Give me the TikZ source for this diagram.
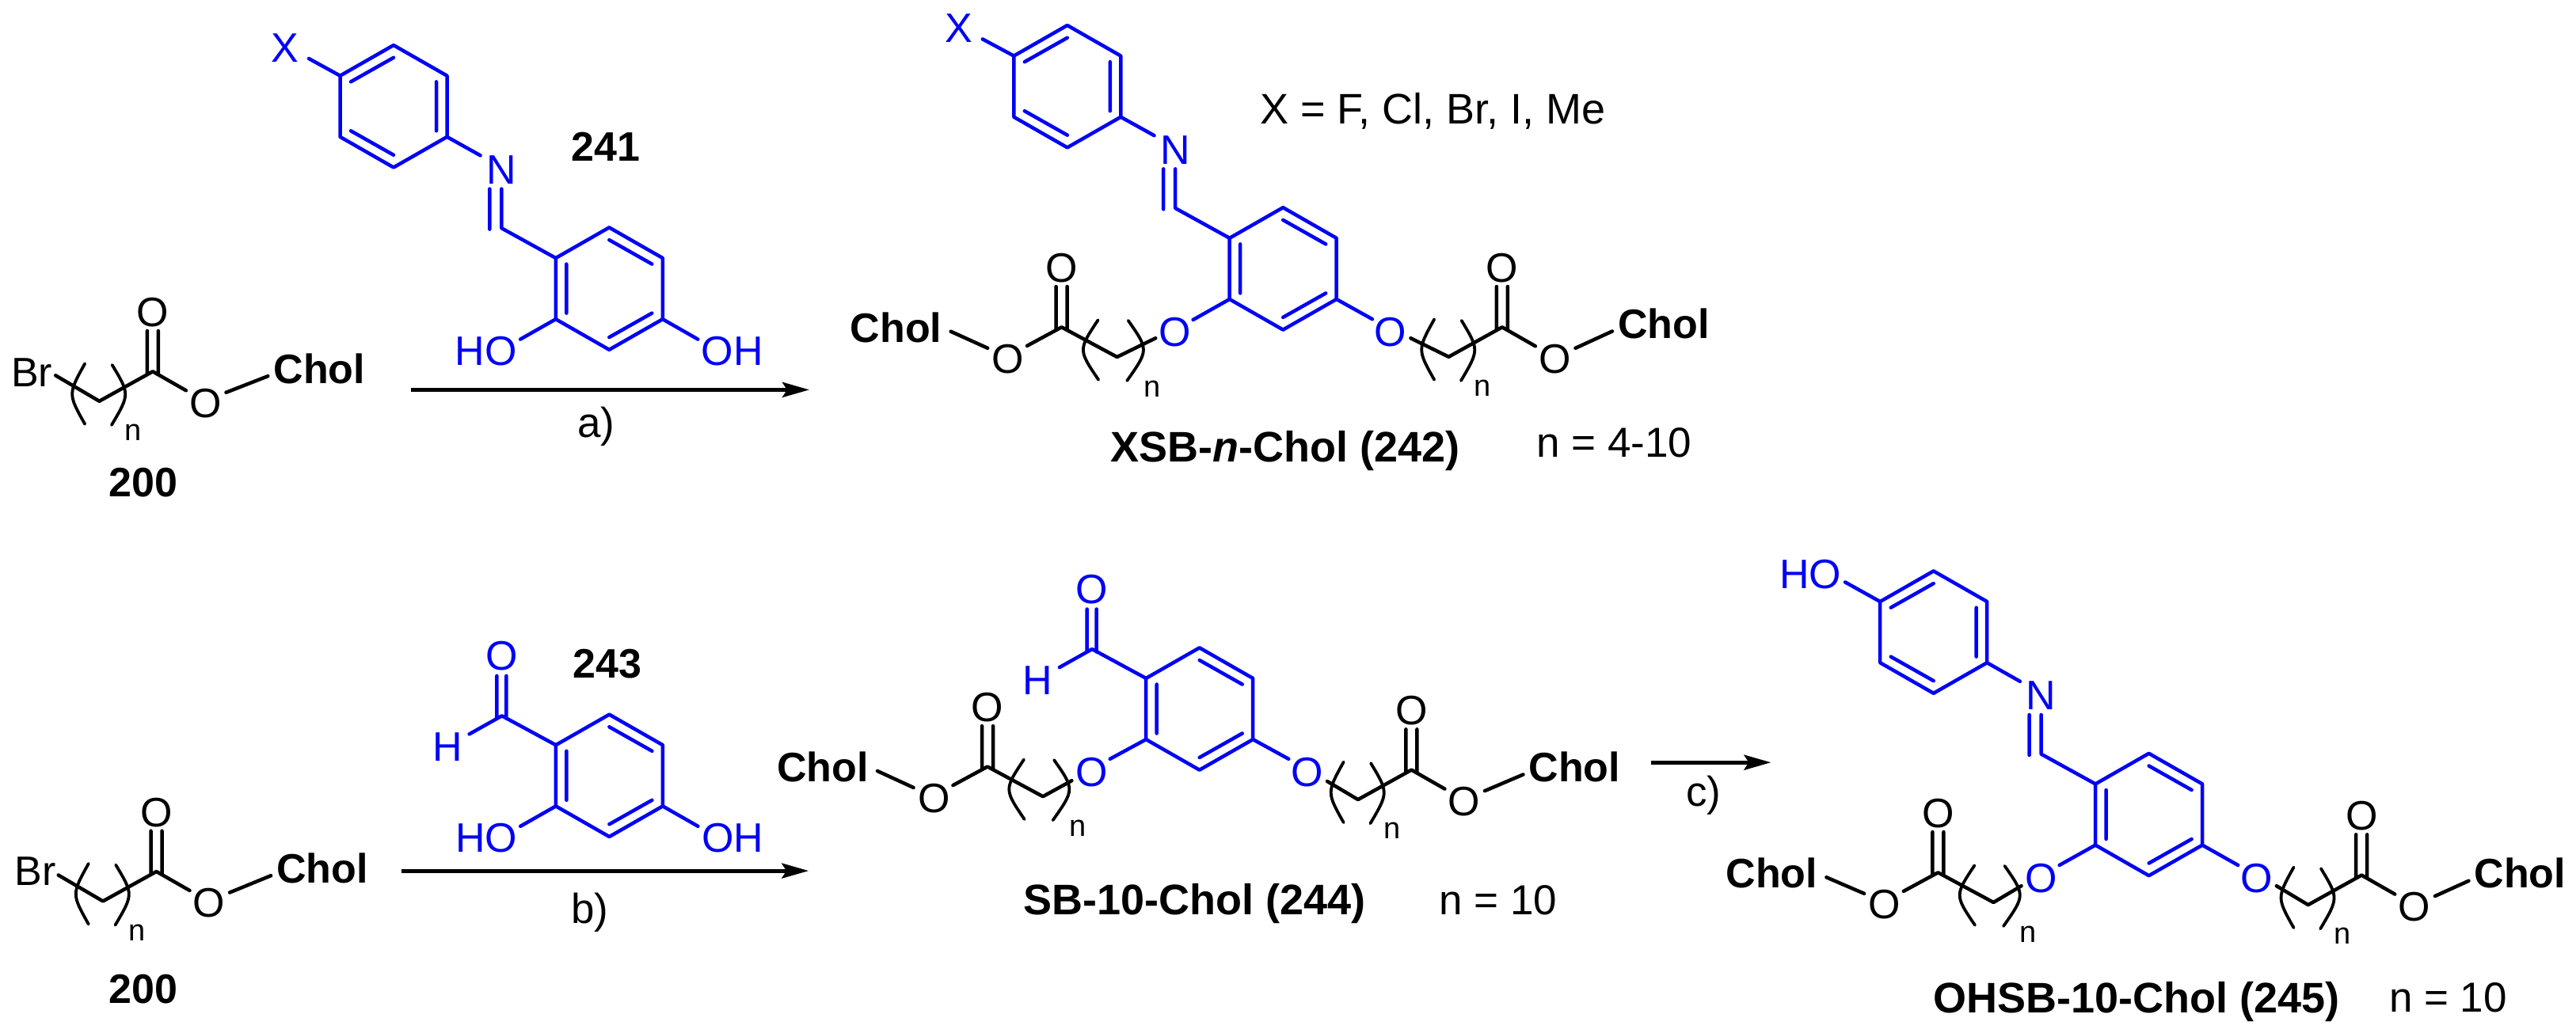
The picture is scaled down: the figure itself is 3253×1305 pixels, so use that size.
\documentclass[tikz,border=0pt]{standalone}
\usepackage{fontspec}
\setmainfont{Liberation Sans}
\usetikzlibrary{arrows.meta}
\definecolor{chemblue}{RGB}{0,0,245}
\tikzset{
  x=.5pt,y=-.5pt,
  bond/.style={line width=2.25pt,line cap=round,line join=round},
  bk/.style={bond,draw=black},
  bl/.style={bond,draw=chemblue},
  paren/.style={line width=1.9pt,draw=black,line cap=round},
  atom/.style={inner sep=0pt,font=\fontsize{26pt}{30pt}\selectfont,text height=18.6pt,text depth=0pt},
  chol/.style={inner sep=0pt,font=\fontsize{26pt}{30pt}\selectfont\bfseries,text height=18.6pt,text depth=0pt},
  subn/.style={inner sep=0pt,font=\fontsize{19pt}{22pt}\selectfont,text height=10pt,text depth=0pt},
  capline/.style={inner sep=0pt,anchor=base west,font=\fontsize{27pt}{30pt}\selectfont\bfseries},
  note/.style={inner sep=0pt,anchor=base west,font=\fontsize{26.5pt}{30pt}\selectfont},
  rxn/.style={line width=2.4pt,draw=black,-{Stealth[length=17pt,width=9.5pt,inset=3pt]}},
}
% six vertices and the inner double-bond ends of a ring
\newcommand\hexpts[3]{\begin{scope}[shift={(#2,#3)}]
  \coordinate (#1t) at (0,-77.2); \coordinate (#1ur) at (67.5,-38.6);
  \coordinate (#1lr) at (67.5,38.6); \coordinate (#1b) at (0,77.2);
  \coordinate (#1ll) at (-67.5,38.6); \coordinate (#1ul) at (-67.5,-38.6);
  \coordinate (#1it) at (0,-61.5); \coordinate (#1iur) at (54,-31);
  \coordinate (#1ilr) at (54,31); \coordinate (#1ib) at (0,61.5);
  \coordinate (#1ill) at (-54,31); \coordinate (#1iul) at (-54,-31);
  \end{scope}
  \draw[bl] (#1t)--(#1ur)--(#1lr)--(#1b)--(#1ll)--(#1ul)--cycle;}
\newcommand\ringA[3]{\hexpts{#1}{#2}{#3}
  \draw[bl] (#1iul)--(#1it) (#1iur)--(#1ilr) (#1ill)--(#1ib);}
\newcommand\ringB[3]{\hexpts{#1}{#2}{#3}
  \draw[bl] (#1it)--(#1iur) (#1ilr)--(#1ib) (#1iul)--(#1ill);}
% imine bridge: #1 name, #2 #3 centre of ring B (named #1b), #4 #5 centre of ring A (named #1A)
\newcommand\imine[5]{\begin{scope}[shift={(#2,#3)}]
  \coordinate (#1cn) at (-136,-76.4); \coordinate (#1cn2) at (-151,-75);
  \coordinate (#1nb) at (-136,-126); \coordinate (#1nb2) at (-151,-126);
  \coordinate (#1ne) at (-162.7,-168.2);
  \node[atom,text=chemblue] (#1N) at (-136,-150.9) {N};
  \end{scope}
  \ringA{#1A}{#4}{#5}
  \draw[bl] (#1bul)--(#1cn)--(#1nb) (#1cn2)--(#1nb2) (#1Alr)--(#1ne);}
% aldehyde on ring B
\newcommand\cho[3]{\begin{scope}[shift={(#2,#3)}]
  \coordinate (#1cc) at (-135.6,-75.5); \coordinate (#1d1) at (-142,-72);
  \coordinate (#1d2) at (-130,-72); \coordinate (#1u1) at (-142,-126);
  \coordinate (#1u2) at (-130,-126); \coordinate (#1he) at (-176.8,-52.4);
  \node[atom,text=chemblue] (#1O) at (-136,-152) {O};
  \node[atom,text=chemblue] (#1H) at (-204.5,-36.5) {H};
  \end{scope}
  \draw[bl] (#1bul)--(#1cc)--(#1he) (#1d1)--(#1u1) (#1d2)--(#1u2);}
% ester arm pointing right: #1 name, #2 #3 carbonyl C, #4 #5 Chol offset, #6 #7 free chain end
\newcommand\armR[7]{\begin{scope}[shift={(#2,#3)}]
  \coordinate (#1C) at (0,0); \coordinate (#1M) at (-67.5,37.5);
  \coordinate (#1d1) at (-7,3); \coordinate (#1d2) at (7,3);
  \coordinate (#1u1) at (-7,-51.3); \coordinate (#1u2) at (7,-51.3);
  \coordinate (#1e1) at (42,24); \coordinate (#1e2) at (92.6,26.5);
  \coordinate (#1e3) at ({#4-65},{#5+9.5});
  \node[atom] (#1O) at (0,-75.6) {O};
  \node[atom] (#1Oe) at (66.5,39.3) {O};
  \node[chol] (#1Ch) at (#4,#5) {Chol};
  \node[subn] (#1n) at (-24.4,77) {n};
  \draw[paren] (-85.7,-10) .. controls (-107,28.5) .. (-85.7,66.5);
  \draw[paren] (-51.3,-8.4) .. controls (-29,28.7) .. (-52,67.7);
  \end{scope}
  \coordinate (#1end) at (#6,#7);
  \draw[bk] (#1end)--(#1M)--(#1C)--(#1e1) (#1d1)--(#1u1) (#1d2)--(#1u2) (#1e2)--(#1e3);}
% ester arm pointing left
\newcommand\armL[7]{\begin{scope}[shift={(#2,#3)}]
  \coordinate (#1C) at (0,0); \coordinate (#1M) at (70,37.7);
  \coordinate (#1d1) at (-7,3); \coordinate (#1d2) at (7,3);
  \coordinate (#1u1) at (-7,-51.3); \coordinate (#1u2) at (7,-51.3);
  \coordinate (#1e1) at (-43.6,23.6); \coordinate (#1e2) at (-93.4,26.5);
  \coordinate (#1e3) at ({#4+69},{#5+5});
  \node[atom] (#1O) at (0,-75.4) {O};
  \node[atom] (#1Oe) at (-67.4,39.5) {O};
  \node[chol] (#1Ch) at (#4,#5) {Chol};
  \node[subn] (#1n) at (114,78) {n};
  \draw[paren] (46,-9) .. controls (21,28.7) .. (46.6,66.5);
  \draw[paren] (84.1,-8.4) .. controls (110,28.7) .. (82.6,67.7);
  \end{scope}
  \coordinate (#1end) at (#6,#7);
  \draw[bk] (#1end)--(#1M)--(#1C)--(#1e1) (#1d1)--(#1u1) (#1d2)--(#1u2) (#1e2)--(#1e3);}
\begin{document}
\begin{tikzpicture}
\path[use as bounding box,fill=white] (0,0) rectangle (3253,1305);

% ---- 200 (top)
\node[atom] (brA) at (40,470) {Br};
\armR{pa}{192.9}{469.3}{210.4}{-3.6}{70.2}{474.3}
\node[chol] (lab200a) at (181,609) {200};

% ---- 241
\ringB{mb}{769.3}{364.6}
\imine{m}{769.3}{364.6}{497}{134.3}
\node[atom,text=chemblue] (mX) at (360,60) {X};
\coordinate (mXe) at (390,74);
\draw[bl] (mAul)--(mXe);
\node[atom,text=chemblue] (mHO) at (613.8,443.2) {HO};
\node[atom,text=chemblue] (mOH) at (924.6,443.2) {OH};
\coordinate (mEL) at (657.1,428.6); \coordinate (mER) at (881.3,428.6);
\draw[bl] (mbll)--(mEL) (mblr)--(mER);
\node[chol] (lab241) at (764.6,185.2) {241};

% ---- arrow a
\coordinate (aS) at (519,492.4); \coordinate (aE) at (1022,492.4);
\draw[rxn] (aS)--(aE);
\node[note,anchor=base] (la) at (752.7,552) {a)};

% ---- 242
\ringB{xb}{1620.2}{339.4}
\imine{x}{1620.2}{339.4}{1347.8}{109.2}
\node[atom,text=chemblue] (xX) at (1211.2,35) {X};
\coordinate (xXe) at (1240.8,49.4);
\draw[bl] (xAul)--(xXe);
\node[atom,text=chemblue] (xOL) at (1483.7,418.8) {O};
\node[atom,text=chemblue] (xOR) at (1756.1,418.8) {O};
\coordinate (xEL) at (1506.6,404); \coordinate (xER) at (1733,403.2);
\draw[bl] (xbll)--(xEL) (xblr)--(xER);
\armL{xl}{1340.6}{413.3}{-209}{0.4}{1459.2}{427.2}
\armR{xr}{1896.9}{413.3}{204}{-4.3}{1781.4}{427.2}
\node[note,font=\fontsize{27pt}{30pt}\selectfont] (xeq) at (1590.8,156.6) {X = F, Cl, Br, I, Me};
\node[capline] (xcap) at (1401.8,583) {XSB-\textit{n}-Chol (242)};
\node[note] (xn) at (1939.8,577.5) {n = 4-10};

% ---- 200 (bottom)
\node[atom] (brB) at (44.5,1100) {Br};
\armR{pb}{197.5}{1101}{209.6}{-4.3}{73.7}{1105.5}
\node[chol] (lab200b) at (180.8,1249) {200};

% ---- 243
\ringB{db}{769.4}{979.8}
\cho{d}{769.4}{979.8}
\coordinate (dEL) at (657.2,1043.8); \coordinate (dER) at (881.4,1043.8);
\node[atom,text=chemblue] (dHO) at (614,1058.2) {HO};
\node[atom,text=chemblue] (dOH) at (925.4,1058.2) {OH};
\draw[bl] (dbll)--(dEL) (dblr)--(dER);
\node[chol] (lab243) at (766.8,837.7) {243};

% ---- arrow b
\coordinate (bS) at (507,1100.1); \coordinate (bE) at (1021.2,1100.1);
\draw[rxn] (bS)--(bE);
\node[note,anchor=base] (lb) at (744.7,1166) {b)};

% ---- 244
\ringB{sb}{1514.7}{895.5}
\cho{s}{1514.7}{895.5}
\node[atom,text=chemblue] (sOL) at (1379,974.7) {O};
\node[atom,text=chemblue] (sOR) at (1650.4,974.7) {O};
\coordinate (sEL) at (1401.7,958.8); \coordinate (sER) at (1627.3,958.8);
\draw[bl] (sbll)--(sEL) (sblr)--(sER);
\armL{sl}{1247}{968.5}{-208}{0.5}{1353.4}{986.2}
\armR{sr}{1782.4}{972.6}{206}{-3.6}{1676}{987}
\node[capline] (scap) at (1292.5,1155.7) {SB-10-Chol (244)};
\node[note] (sn) at (1816.9,1155) {n = 10};

% ---- arrow c
\coordinate (cS) at (2084.5,963.2); \coordinate (cE) at (2236.4,963.2);
\draw[rxn] (cS)--(cE);
\node[note,anchor=base] (lc) at (2151.3,1018) {c)};

% ---- 245
\ringB{hb}{2713.6}{1029}
\imine{h}{2713.6}{1029}{2441.7}{798.6}
\node[atom,text=chemblue] (hHO) at (2286.3,724.4) {HO};
\coordinate (hXe) at (2330,735.4);
\draw[bl] (hAul)--(hXe);
\node[atom,text=chemblue] (hOL) at (2577.9,1108.6) {O};
\node[atom,text=chemblue] (hOR) at (2849.4,1108.6) {O};
\coordinate (hEL) at (2600.6,1093); \coordinate (hER) at (2826.2,1093);
\draw[bl] (hbll)--(hEL) (hblr)--(hER);
\armL{hl}{2447.4}{1102.3}{-210}{1}{2552.5}{1119.2}
\armR{hr}{2982.2}{1105.6}{200.2}{-2.3}{2874.8}{1119.2}
\node[capline] (hcap) at (2441.3,1279) {OHSB-10-Chol (245)};
\node[note] (hn) at (3016.7,1278) {n = 10};
\end{tikzpicture}
\end{document}
